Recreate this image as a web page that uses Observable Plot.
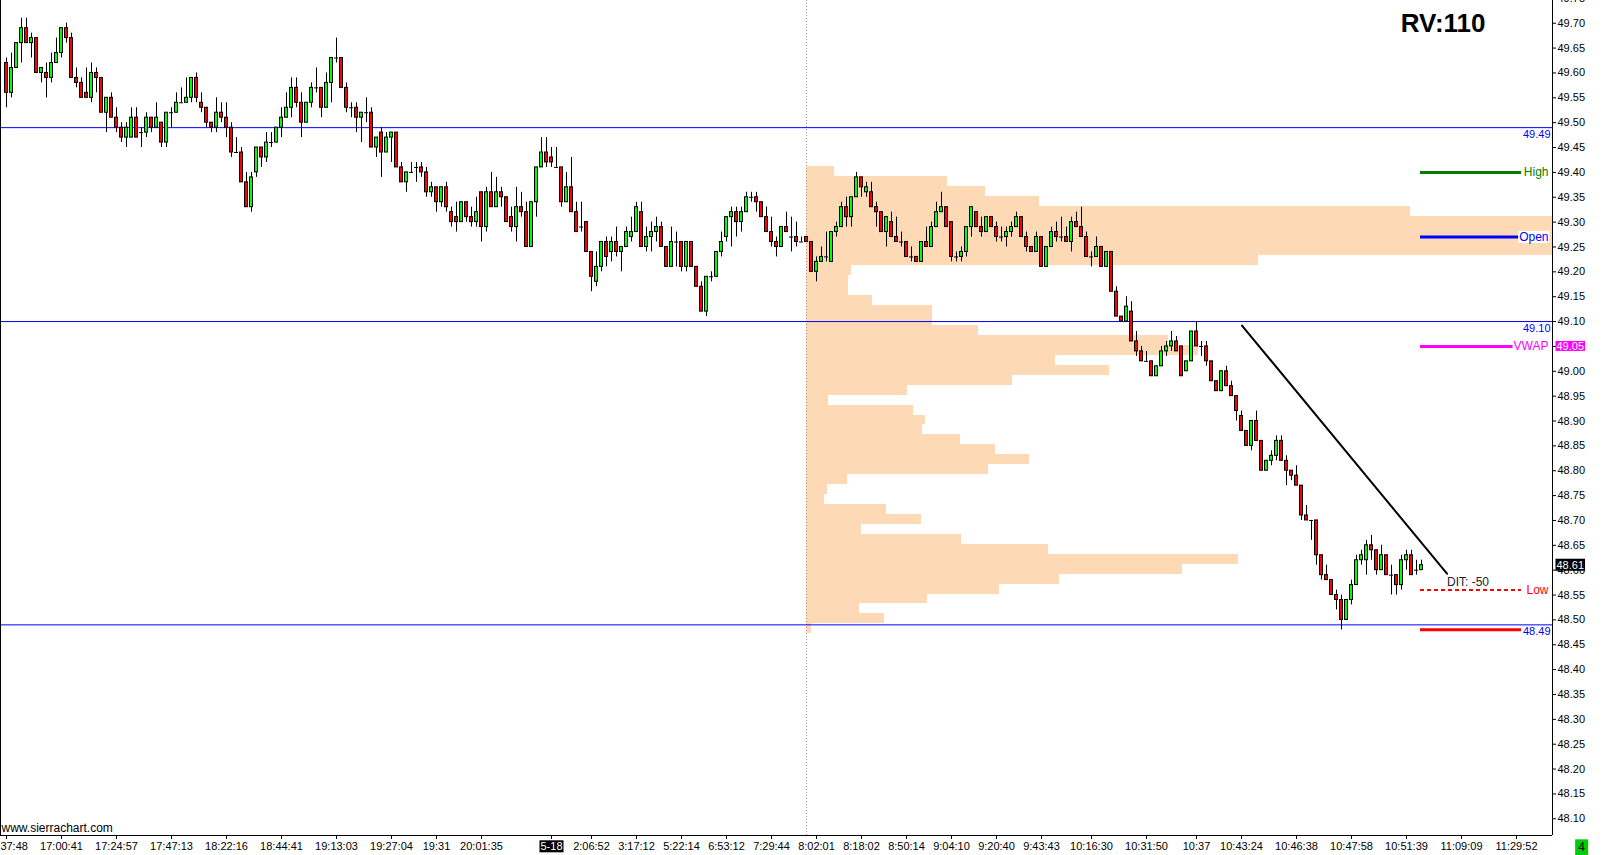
<!DOCTYPE html>
<html>
<head>
<meta charset="utf-8">
<script src="https://cdn.jsdelivr.net/npm/d3@7"></script>
<script src="https://cdn.jsdelivr.net/npm/@observablehq/plot@0.6"></script>
<style>
  body { margin: 0; background: white; }
  #chart { width: 1603px; height: 855px; overflow: hidden; }
</style>
</head>
<body>
<div id="chart"></div>
<script>
// velas de 1 tick-bar, indice 0..283
const opens = [
  49.62,49.56,49.61,49.66,49.69,49.66,49.67,49.60,49.60,49.59,
  49.62,49.64,49.69,49.67,49.59,49.58,49.56,49.55,49.60,49.59,
  49.52,49.55,49.51,49.49,49.47,49.47,49.51,49.48,49.48,49.51,
  49.49,49.50,49.46,49.52,49.52,49.54,49.54,49.55,49.59,49.54,
  49.53,49.50,49.49,49.52,49.51,49.49,49.44,49.44,49.38,49.33,
  49.40,49.45,49.43,49.46,49.46,49.49,49.51,49.53,49.57,49.54,
  49.50,49.54,49.57,49.57,49.53,49.58,49.63,49.63,49.57,49.53,
  49.53,49.51,49.52,49.52,49.45,49.48,49.44,49.47,49.48,49.41,
  49.38,49.40,49.41,49.41,49.40,49.36,49.37,49.34,49.37,49.32,
  49.31,49.30,49.34,49.31,49.30,49.36,49.29,49.36,49.33,49.36,
  49.35,49.31,49.29,49.33,49.32,49.25,49.34,49.41,49.44,49.43,
  49.41,49.41,49.34,49.37,49.32,49.29,49.30,49.24,49.18,49.21,
  49.26,49.24,49.26,49.24,49.25,49.27,49.28,49.32,49.25,49.27,
  49.28,49.29,49.25,49.21,49.26,49.26,49.21,49.26,49.21,49.17,
  49.12,49.19,49.19,49.24,49.27,49.31,49.32,49.30,49.32,49.35,
  49.35,49.34,49.31,49.28,49.26,49.25,49.29,49.27,49.27,49.26,
  49.27,49.26,49.20,49.22,49.23,49.22,49.28,49.29,49.33,49.31,
  49.35,49.39,49.36,49.36,49.33,49.32,49.28,49.30,49.27,49.26,
  49.26,49.23,49.23,49.22,49.26,49.25,49.29,49.32,49.33,49.30,
  49.23,49.23,49.24,49.29,49.32,49.29,49.28,49.31,49.29,49.27,
  49.27,49.28,49.29,49.31,49.27,49.25,49.24,49.27,49.21,49.25,
  49.28,49.27,49.27,49.26,49.30,49.29,49.27,49.23,49.23,49.25,
  49.21,49.24,49.16,49.11,49.10,49.12,49.06,49.04,49.02,49.02,
  48.99,49.01,49.04,49.05,49.06,49.05,49.00,49.02,49.08,49.05,
  49.05,49.02,48.98,48.96,49.00,48.97,48.95,48.91,48.88,48.85,
  48.90,48.86,48.80,48.82,48.83,48.86,48.82,48.80,48.79,48.77,
  48.71,48.70,48.70,48.63,48.59,48.58,48.55,48.54,48.50,48.54,
  48.57,48.62,48.62,48.65,48.64,48.60,48.63,48.59,48.59,48.57,
  48.62,48.63,48.60,48.60
];
const highs = [
  49.63,49.64,49.66,49.71,49.71,49.68,49.67,49.61,49.62,49.64,
  49.67,49.69,49.70,49.68,49.61,49.59,49.61,49.62,49.61,49.59,
  49.55,49.56,49.53,49.50,49.50,49.53,49.53,49.49,49.52,49.51,
  49.54,49.50,49.52,49.53,49.56,49.57,49.59,49.59,49.60,49.56,
  49.53,49.50,49.55,49.54,49.54,49.50,49.47,49.45,49.40,49.40,
  49.45,49.45,49.48,49.48,49.49,49.53,49.56,49.59,49.59,49.56,
  49.54,49.58,49.61,49.57,49.60,49.63,49.67,49.63,49.58,49.54,
  49.54,49.52,49.55,49.53,49.47,49.49,49.48,49.48,49.48,49.42,
  49.40,49.42,49.42,49.42,49.41,49.38,49.37,49.37,49.38,49.33,
  49.34,49.34,49.34,49.33,49.35,49.36,49.37,49.40,49.39,49.37,
  49.35,49.33,49.37,49.36,49.34,49.34,49.41,49.47,49.47,49.45,
  49.45,49.41,49.40,49.43,49.34,49.34,49.30,49.24,49.24,49.26,
  49.27,49.27,49.29,49.25,49.29,49.31,49.34,49.34,49.29,49.30,
  49.31,49.30,49.25,49.29,49.28,49.26,49.26,49.26,49.21,49.18,
  49.19,49.20,49.24,49.28,49.31,49.33,49.33,49.33,49.36,49.36,
  49.36,49.34,49.33,49.31,49.27,49.29,49.32,49.31,49.30,49.27,
  49.27,49.26,49.23,49.25,49.28,49.28,49.30,49.34,49.35,49.35,
  49.40,49.39,49.38,49.38,49.34,49.32,49.31,49.32,49.31,49.28,
  49.26,49.25,49.23,49.26,49.29,49.30,49.34,49.36,49.33,49.30,
  49.24,49.25,49.29,49.33,49.32,49.31,49.31,49.31,49.30,49.29,
  49.29,49.30,49.32,49.31,49.28,49.25,49.28,49.27,49.25,49.29,
  49.30,49.31,49.29,49.31,49.32,49.33,49.28,49.24,49.27,49.25,
  49.24,49.24,49.17,49.11,49.15,49.14,49.08,49.05,49.04,49.02,
  49.01,49.05,49.06,49.08,49.07,49.05,49.02,49.08,49.10,49.06,
  49.06,49.02,48.98,49.00,49.01,48.98,48.95,48.92,48.88,48.90,
  48.92,48.86,48.82,48.84,48.87,48.87,48.83,48.80,48.81,48.77,
  48.73,48.70,48.70,48.63,48.61,48.58,48.56,48.55,48.54,48.58,
  48.63,48.64,48.66,48.67,48.64,48.65,48.63,48.61,48.59,48.63,
  48.64,48.64,48.62,48.62
];
const lows = [
  49.53,49.55,49.61,49.62,49.66,49.63,49.60,49.58,49.55,49.58,
  49.62,49.63,49.66,49.59,49.57,49.55,49.55,49.54,49.56,49.52,
  49.48,49.51,49.48,49.46,49.45,49.47,49.47,49.45,49.47,49.48,
  49.49,49.45,49.45,49.49,49.52,49.54,49.54,49.54,49.54,49.52,
  49.49,49.48,49.48,49.50,49.47,49.43,49.44,49.38,49.33,49.32,
  49.39,49.41,49.42,49.45,49.46,49.47,49.51,49.51,49.53,49.47,
  49.50,49.53,49.56,49.51,49.53,49.54,49.62,49.57,49.52,49.51,
  49.48,49.46,49.50,49.45,49.43,49.39,49.44,49.42,49.41,49.38,
  49.36,49.40,49.38,49.39,49.35,49.35,49.32,49.33,49.32,49.29,
  49.28,49.30,49.30,49.29,49.29,49.26,49.28,49.33,49.33,49.33,
  49.30,49.28,49.26,49.31,49.25,49.25,49.31,49.41,49.41,49.41,
  49.41,49.33,49.34,49.32,49.28,49.28,49.24,49.16,49.17,49.20,
  49.21,49.22,49.23,49.20,49.25,49.26,49.28,49.25,49.24,49.24,
  49.26,49.25,49.21,49.21,49.21,49.20,49.20,49.21,49.17,49.12,
  49.11,49.18,49.19,49.23,49.26,49.25,49.27,49.28,49.32,49.34,
  49.32,49.31,49.28,49.25,49.23,49.25,49.28,49.24,49.25,49.26,
  49.26,49.20,49.18,49.22,49.22,49.22,49.27,49.29,49.29,49.29,
  49.35,49.35,49.35,49.33,49.29,49.28,49.25,49.27,49.26,49.25,
  49.23,49.22,49.22,49.22,49.25,49.25,49.29,49.32,49.29,49.22,
  49.22,49.22,49.23,49.27,49.29,49.27,49.28,49.29,49.26,49.26,
  49.25,49.27,49.29,49.27,49.24,49.24,49.24,49.21,49.21,49.25,
  49.26,49.26,49.26,49.24,49.29,49.27,49.23,49.21,49.23,49.21,
  49.21,49.16,49.11,49.10,49.10,49.06,49.03,49.02,49.02,48.99,
  48.99,49.01,49.03,49.04,49.04,48.99,49.00,49.02,49.05,49.03,
  49.01,48.98,48.96,48.96,48.97,48.95,48.90,48.88,48.85,48.84,
  48.86,48.80,48.80,48.81,48.82,48.82,48.77,48.78,48.77,48.70,
  48.70,48.66,48.61,48.58,48.58,48.55,48.52,48.48,48.50,48.53,
  48.57,48.61,48.59,48.62,48.59,48.60,48.59,48.55,48.55,48.56,
  48.60,48.59,48.59,48.60
];
const closes = [
  49.56,49.61,49.66,49.69,49.66,49.67,49.60,49.61,49.59,49.62,
  49.64,49.69,49.67,49.59,49.58,49.55,49.55,49.60,49.59,49.52,
  49.55,49.51,49.49,49.47,49.49,49.51,49.47,49.48,49.51,49.49,
  49.51,49.46,49.52,49.52,49.54,49.54,49.55,49.59,49.55,49.53,
  49.50,49.49,49.52,49.51,49.49,49.44,49.44,49.38,49.33,49.39,
  49.45,49.43,49.46,49.46,49.49,49.51,49.53,49.57,49.54,49.50,
  49.54,49.57,49.57,49.53,49.58,49.63,49.63,49.57,49.53,49.53,
  49.51,49.52,49.52,49.45,49.47,49.44,49.47,49.48,49.41,49.38,
  49.40,49.40,49.41,49.40,49.36,49.37,49.34,49.37,49.33,49.30,
  49.30,49.34,49.31,49.30,49.32,49.29,49.36,49.33,49.36,49.35,
  49.30,49.29,49.33,49.32,49.25,49.34,49.41,49.44,49.42,49.42,
  49.41,49.34,49.37,49.32,49.28,49.29,49.24,49.19,49.21,49.26,
  49.23,49.26,49.24,49.25,49.28,49.28,49.33,49.25,49.27,49.28,
  49.29,49.25,49.21,49.26,49.26,49.21,49.26,49.21,49.17,49.12,
  49.19,49.19,49.24,49.26,49.31,49.32,49.30,49.32,49.35,49.35,
  49.34,49.31,49.28,49.26,49.25,49.29,49.28,49.27,49.26,49.26,
  49.26,49.20,49.22,49.23,49.23,49.28,49.29,49.33,49.31,49.35,
  49.39,49.37,49.37,49.33,49.32,49.28,49.31,49.27,49.26,49.26,
  49.23,49.23,49.22,49.26,49.25,49.29,49.32,49.33,49.29,49.23,
  49.23,49.24,49.29,49.33,49.29,49.28,49.31,49.29,49.27,49.27,
  49.28,49.29,49.31,49.27,49.25,49.24,49.27,49.21,49.25,49.28,
  49.27,49.27,49.26,49.30,49.29,49.27,49.23,49.23,49.25,49.21,
  49.24,49.16,49.11,49.10,49.13,49.06,49.04,49.02,49.02,48.99,
  49.01,49.04,49.05,49.06,49.04,48.99,49.02,49.08,49.05,49.05,
  49.02,48.98,48.96,49.00,48.97,48.95,48.92,48.88,48.85,48.90,
  48.86,48.80,48.82,48.83,48.86,48.82,48.80,48.79,48.77,48.71,
  48.70,48.70,48.63,48.59,48.58,48.55,48.54,48.50,48.54,48.57,
  48.62,48.63,48.65,48.64,48.60,48.63,48.59,48.59,48.57,48.62,
  48.63,48.59,48.60,48.61
];

// etiquetas del eje de tiempo (indice de barra -> texto)
const timeTickBars = [0, 11, 22, 33, 44, 55, 66, 77, 86, 95, 109, 117, 126, 135, 144, 153,
  162, 171, 180, 189, 198, 207, 217, 228, 238, 247, 258, 269, 280, 291, 302];
const timeTickLabels = ["16:37:48", "17:00:41", "17:24:57", "17:47:13", "18:22:16", "18:44:41",
  "19:13:03", "19:27:04", "19:31", "20:01:35", "5-18", "2:06:52", "3:17:12", "5:22:14", "6:53:12",
  "7:29:44", "8:02:01", "8:18:02", "8:50:14", "9:04:10", "9:20:40", "9:43:43", "10:16:30",
  "10:31:50", "10:37", "10:43:24", "10:46:38", "10:47:58", "10:51:39", "11:09:09", "11:29:52"];

const priceTicks = [48.10, 48.15, 48.20, 48.25, 48.30, 48.35, 48.40, 48.45, 48.50, 48.55,
  48.60, 48.65, 48.70, 48.75, 48.80, 48.85, 48.90, 48.95, 49.00, 49.05, 49.10, 49.15,
  49.20, 49.25, 49.30, 49.35, 49.40, 49.45, 49.50, 49.55, 49.60, 49.65, 49.70, 49.75];

// perfil de volumen de la sesion (bloques de 2 centavos, volumen relativo)
const profilePrices = [49.40, 49.38, 49.36, 49.34, 49.32, 49.30, 49.28, 49.26, 49.24, 49.22,
  49.20, 49.18, 49.16, 49.14, 49.12, 49.10, 49.08, 49.06, 49.04, 49.02, 49.00, 48.98, 48.96,
  48.94, 48.92, 48.90, 48.88, 48.86, 48.84, 48.82, 48.80, 48.78, 48.76, 48.74, 48.72, 48.70,
  48.68, 48.66, 48.64, 48.62, 48.60, 48.58, 48.56, 48.54, 48.52, 48.50, 48.48];
const profileVolume = [38, 189, 240, 312, 810, 1000, 1000, 1000, 1000, 606,
  60, 56, 56, 88, 169, 169, 231, 485, 525, 334, 406, 276, 135,
  29, 143, 160, 155, 206, 253, 299, 244, 55, 28, 24, 107, 154,
  74, 208, 324, 579, 504, 339, 259, 162, 71, 105, 7];
const sessionStartBar = 160;

// niveles horizontales
const keyLevels = [49.49, 49.10, 48.49];
const studyNames = ["High", "Open", "VWAP", "Low"];
const studyValues = [49.40, 49.27, 49.05, 48.56];
const sessionLow = 48.48;
const lastPrice = 48.61;

// linea de tendencia dibujada a mano
const trendBars = [247.1, 288.1];
const trendPrices = [49.092, 48.593];

const bars = opens.map((o, i) => ({i, o, h: highs[i], l: lows[i], c: closes[i]}));
const bodies = bars.filter(d => d.o !== d.c);
const dojis = bars.filter(d => d.o === d.c);
const profile = profilePrices.map((p, k) => ({p, v: profileVolume[k]}));
const trend = trendBars.map((b, k) => ({i: b, p: trendPrices[k]}));
const studyColors = {High: "#008000", Open: "#0000ff", VWAP: "#ff00ff", Low: "#ff0000"};
const studies = studyNames.map((name, k) => ({name, value: studyValues[k]}));

const xDomain = [-1.2, 309.2];
const yDomain = [48.0664, 49.7457];
const barsPerVolume = (xDomain[1] - sessionStartBar) / 1000;
const studyFrom = 282.8, studyTo = 303;

const chart = Plot.plot({
  width: 1603,
  height: 855,
  marginTop: 0,
  marginBottom: 20,
  marginLeft: 0,
  marginRight: 51,
  style: {fontFamily: "'Liberation Sans', Arial, sans-serif", fontSize: "11px", background: "white", color: "black"},
  x: {domain: xDomain, axis: "bottom", ticks: timeTickBars,
      tickFormat: d => timeTickLabels[timeTickBars.indexOf(d)], tickSize: 4, tickPadding: 3, label: null},
  y: {domain: yDomain, axis: "right", ticks: priceTicks, tickFormat: d3.format(".2f"),
      tickSize: 3, tickPadding: 2, label: null},
  marks: [
    Plot.rect(profile, {
      x1: () => sessionStartBar,
      x2: d => sessionStartBar + d.v * barsPerVolume,
      y1: d => d.p - 0.008,
      y2: d => d.p + 0.012,
      fill: "#fdd9b5",
      shapeRendering: "crispEdges"
    }),
    Plot.ruleX([sessionStartBar], {stroke: "#9a9a9a", strokeDasharray: "1,2"}),
    Plot.ruleY(keyLevels, {stroke: "#0000ff", strokeWidth: 1}),
    Plot.ruleX(bars, {x: "i", y1: "l", y2: "h", stroke: "black", strokeWidth: 1}),
    Plot.rect(bodies, {
      x1: d => d.i - 0.3, x2: d => d.i + 0.3, y1: "o", y2: "c",
      fill: d => d.c > d.o ? "#00ff00" : "#ff0000", stroke: "black", strokeWidth: 1
    }),
    Plot.ruleY(dojis, {y: "o", x1: d => d.i - 0.4, x2: d => d.i + 0.4, stroke: "black", strokeWidth: 1}),
    Plot.line(trend, {x: "i", y: "p", stroke: "black", strokeWidth: 2}),
    Plot.text(trend.slice(1), {x: "i", y: "p", text: () => "DIT: -50", textAnchor: "start", dy: 8, fontSize: 12, fill: "#222"}),
    // lineas de estudio a la derecha
    Plot.ruleY(studies.filter(d => d.name !== "Low"), {
      y: "value", x1: () => studyFrom, x2: () => studyTo, stroke: d => studyColors[d.name], strokeWidth: 3
    }),
    Plot.ruleY(studies.filter(d => d.name === "Low"), {
      y: "value", x1: () => studyFrom, x2: () => studyTo, stroke: "#ff0000", strokeWidth: 2, strokeDasharray: "4,3"
    }),
    Plot.ruleY([sessionLow], {x1: () => studyFrom, x2: () => studyTo, stroke: "#ff0000", strokeWidth: 3}),
    Plot.text(studies, {
      y: "value", text: "name", frameAnchor: "right", textAnchor: "end", dx: -4,
      fill: d => studyColors[d.name], fontSize: 12
    }),
    Plot.text(keyLevels, {
      y: d => d, text: d => d.toFixed(2), frameAnchor: "right", textAnchor: "end", dx: -2, dy: 7,
      fill: "#0000ff", fontSize: 11
    }),
    // cajas de precio en el eje
    Plot.text([studyValues[2], lastPrice], {
      y: d => d, text: d => d.toFixed(2), frameAnchor: "right", textAnchor: "start", dx: 4,
      fill: "white", fontSize: 11
    }),
    Plot.text(["RV:110"], {
      frameAnchor: "top-right", text: d => d, textAnchor: "end", lineAnchor: "middle", dx: -67, dy: 23,
      fontSize: 26, fontWeight: "bold", fill: "black"
    }),
    Plot.text(["www.sierrachart.com"], {
      frameAnchor: "bottom-left", text: d => d, textAnchor: "start", lineAnchor: "middle", dx: 1, dy: -7,
      fontSize: 12, fill: "black"
    }),
    Plot.text(["4"], {
      frameAnchor: "bottom-right", text: d => d, textAnchor: "middle", lineAnchor: "middle", dx: 29, dy: 12,
      fontSize: 12, fill: "black"
    }),
    Plot.ruleX([xDomain[0]], {stroke: "black"}),
    Plot.ruleX([xDomain[1]], {stroke: "black"}),
    Plot.ruleY([yDomain[0]], {stroke: "black"})
  ]
});

d3.select('#chart').append(() => chart);

// fondos detras de algunos textos
function backdrop(selection, fill, padX, padY) {
  selection.each(function() {
    const b = this.getBBox();
    d3.select(this.parentNode).insert("rect", () => this)
      .attr("x", b.x - padX).attr("y", b.y - padY)
      .attr("width", b.width + 2 * padX).attr("height", b.height + 2 * padY)
      .attr("fill", fill).attr("stroke", "none")
      .attr("transform", this.getAttribute("transform"));
  });
}
const svg = d3.select(chart);
const isWhite = node => getComputedStyle(node).fill === "rgb(255, 255, 255)";
const texts = svg.selectAll("text");
backdrop(texts.filter(function() { return studyNames.includes(this.textContent); }), "white", 1, -1);
backdrop(texts.filter(function() { return this.textContent === studyValues[2].toFixed(2) && isWhite(this); }), "#ff00ff", 1, -1);
backdrop(texts.filter(function() { return this.textContent === lastPrice.toFixed(2) && isWhite(this); }), "black", 1, 0);
backdrop(texts.filter(function() { return this.textContent === "4"; }), "#00cc00", 3, 1);
const dayTick = texts.filter(function() { return this.textContent === "5-18"; });
dayTick.attr("fill", "white");
backdrop(dayTick, "black", 1, 0);
</script>
</body>
</html>
